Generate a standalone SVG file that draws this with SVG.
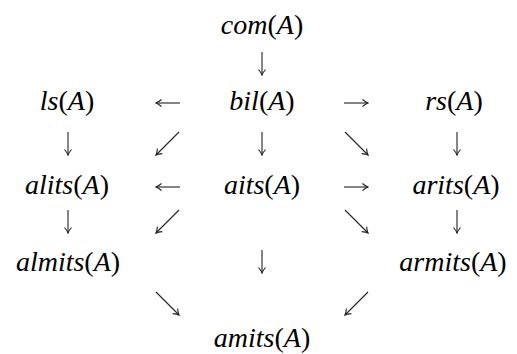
<svg xmlns="http://www.w3.org/2000/svg" width="517" height="354" viewBox="0 0 517 354">
<rect width="517" height="354" fill="#fff"/>
<marker id="ah" markerUnits="userSpaceOnUse" viewBox="-7 -5 8 10" refX="0" refY="0" markerWidth="8" markerHeight="10" orient="auto">
  <path d="M -5.5 -3.5 Q -2.2 -0.7 0 0 Q -2.2 0.7 -5.5 3.5" stroke="#222" stroke-width="1.1" fill="none"/>
</marker>
<g id="com"><text x="262" y="34" font-family="Liberation Serif" font-size="28" font-style="italic" text-anchor="middle">com<tspan font-style="normal">(</tspan>A<tspan font-style="normal">)</tspan></text></g>
<g id="ls"><text x="67" y="110" font-family="Liberation Serif" font-size="28" font-style="italic" text-anchor="middle">ls<tspan font-style="normal">(</tspan>A<tspan font-style="normal">)</tspan></text></g>
<g id="bil"><text x="262" y="110" font-family="Liberation Serif" font-size="28" font-style="italic" text-anchor="middle">bil<tspan font-style="normal">(</tspan>A<tspan font-style="normal">)</tspan></text></g>
<g id="rs"><text x="454" y="110" font-family="Liberation Serif" font-size="28" font-style="italic" text-anchor="middle">rs<tspan font-style="normal">(</tspan>A<tspan font-style="normal">)</tspan></text></g>
<g id="alits"><text x="67" y="194" font-family="Liberation Serif" font-size="28" font-style="italic" text-anchor="middle">alits<tspan font-style="normal">(</tspan>A<tspan font-style="normal">)</tspan></text></g>
<g id="aits"><text x="262" y="194" font-family="Liberation Serif" font-size="28" font-style="italic" text-anchor="middle">aits<tspan font-style="normal">(</tspan>A<tspan font-style="normal">)</tspan></text></g>
<g id="arits"><text x="456" y="194" font-family="Liberation Serif" font-size="28" font-style="italic" text-anchor="middle">arits<tspan font-style="normal">(</tspan>A<tspan font-style="normal">)</tspan></text></g>
<g id="almits"><text x="68" y="271" font-family="Liberation Serif" font-size="28" font-style="italic" text-anchor="middle">almits<tspan font-style="normal">(</tspan>A<tspan font-style="normal">)</tspan></text></g>
<g id="armits"><text x="453" y="271" font-family="Liberation Serif" font-size="28" font-style="italic" text-anchor="middle">armits<tspan font-style="normal">(</tspan>A<tspan font-style="normal">)</tspan></text></g>
<g id="amits"><text x="262" y="347" font-family="Liberation Serif" font-size="28" font-style="italic" text-anchor="middle">amits<tspan font-style="normal">(</tspan>A<tspan font-style="normal">)</tspan></text></g>
<g id="connectors" stroke="#222" stroke-width="1.1" fill="none" marker-end="url(#ah)">
  <path d="M262 52 V75"/>
  <path d="M180 103 H156"/>
  <path d="M344 103 H368"/>
  <path d="M68 132 V155"/>
  <path d="M179 132 L156 155"/>
  <path d="M262 132 V155"/>
  <path d="M345 132 L368 155"/>
  <path d="M457 132 V155"/>
  <path d="M180 187 H156"/>
  <path d="M344 187 H368"/>
  <path d="M68 210 V233"/>
  <path d="M179 210 L156 233"/>
  <path d="M345 210 L368 233"/>
  <path d="M457 210 V233"/>
  <path d="M262 250 V273"/>
  <path d="M156 292 L179 315"/>
  <path d="M368 292 L345 315"/>
</g>
</svg>
